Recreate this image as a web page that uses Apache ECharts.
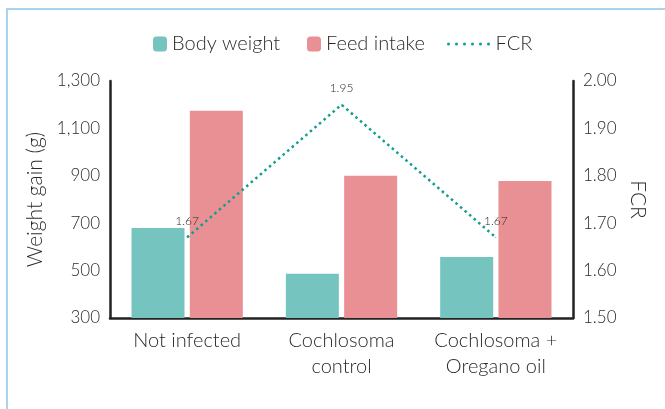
<!DOCTYPE html>
<html>
<head>
<meta charset="utf-8">
<script src="https://cdn.jsdelivr.net/npm/echarts@6/dist/echarts.min.js"></script>
<style>
  html, body { margin: 0; padding: 0; background: #fff; }
  #frame {
    position: absolute; left: 6px; top: 8px; width: 665px; height: 409px;
    border-top: 2px solid #a9d3ee; border-left: 2px solid #a9d3ee;
  }
  #chart { position: absolute; left: 0; top: 0; width: 665px; height: 409px; }
</style>
</head>
<body>
<div id="frame"></div>
<div id="chart"></div>
<script>
// groups on x axis
var groups = ['Not infected', 'Cochlosoma\ncontrol', 'Cochlosoma +\nOregano oil'];
// weight gain (g)
var bodyWeight = [680, 487, 557];
var feedIntake = [1175, 900, 878];
// feed conversion ratio
var fcr = [1.67, 1.95, 1.67];
var fcrLabels = ['1.67', '1.95', '1.67'];

var font = 'Lato';
var weight = 300;
var ink = '#2a2a2a';

// six dots for the FCR legend key
var dots = '';
for (var i = 0; i < 6; i++) {
  var x = 8 * i;
  dots += 'M' + x + ',1.5a1.5,1.5 0 1,0 3,0a1.5,1.5 0 1,0 -3,0';
}

var legendText = { fontSize: 20, color: ink, fontFamily: font, fontWeight: weight };

var chart = echarts.init(document.getElementById('chart'));
chart.setOption({
  textStyle: { fontFamily: font, fontWeight: weight },
  legend: [
    {
      left: 148, top: 29, itemWidth: 14, itemHeight: 15, itemGap: 6,
      textStyle: legendText, data: ['Body weight']
    },
    {
      left: 302, top: 29, itemWidth: 14, itemHeight: 15, itemGap: 6,
      textStyle: legendText, data: ['Feed intake']
    },
    {
      left: 442, top: 29, itemWidth: 44, itemHeight: 3,
      textStyle: legendText,
      data: [{ name: 'FCR', icon: 'path://' + dots, itemStyle: { color: '#109e8f' } }]
    }
  ],
  grid: { left: 110, right: 92, top: 81, bottom: 91 },
  xAxis: {
    type: 'category',
    data: groups,
    axisLine: { lineStyle: { color: '#222', width: 2.5 } },
    axisTick: { show: false },
    axisLabel: {
      interval: 0, fontSize: 20, color: ink, margin: 10, lineHeight: 26, fontWeight: weight
    }
  },
  yAxis: [
    {
      type: 'value', min: 300, max: 1300, interval: 200,
      name: 'Weight gain (g)', nameLocation: 'middle', nameGap: 59,
      nameTextStyle: { fontSize: 21, color: ink, fontWeight: weight },
      axisLine: { show: true, lineStyle: { color: '#222', width: 2.5 } },
      axisTick: { show: false },
      splitLine: { show: false },
      axisLabel: {
        fontSize: 17, color: ink, margin: 10, fontWeight: weight,
        formatter: function (v) { return v.toLocaleString('en-US'); }
      }
    },
    {
      type: 'value', min: 1.5, max: 2.0, interval: 0.1,
      name: 'FCR', nameLocation: 'middle', nameGap: 50, nameRotate: -90,
      nameTextStyle: { fontSize: 21, color: ink, fontWeight: weight },
      axisLine: { show: true, lineStyle: { color: '#222', width: 2.5 } },
      axisTick: { show: false },
      splitLine: { show: false },
      axisLabel: {
        fontSize: 17, color: ink, margin: 10, fontWeight: weight,
        formatter: function (v) { return v.toFixed(2); }
      }
    }
  ],
  series: [
    {
      name: 'Body weight', type: 'bar', data: bodyWeight,
      barWidth: 53, barGap: '10%',
      itemStyle: { color: '#76c4bf' }
    },
    {
      name: 'Feed intake', type: 'bar', data: feedIntake,
      barWidth: 53,
      itemStyle: { color: '#e99094' }
    },
    {
      name: 'FCR', type: 'line', yAxisIndex: 1, data: fcr,
      symbol: 'circle', symbolSize: 1,
      itemStyle: { color: '#109e8f' },
      lineStyle: { color: '#109e8f', width: 2.5, type: [2.5, 3.5] },
      label: {
        show: true, position: 'top', distance: 10,
        fontSize: 12, color: ink, fontWeight: weight,
        formatter: function (p) { return fcrLabels[p.dataIndex]; }
      },
      z: 5
    }
  ]
});
</script>
</body>
</html>
